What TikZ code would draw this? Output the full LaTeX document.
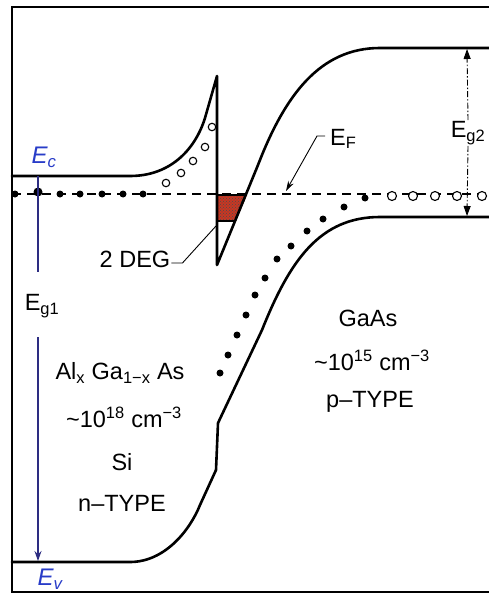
\documentclass[tikz,border=0pt]{standalone}
\usepackage{fontspec}
\setmainfont{Liberation Sans}
\usetikzlibrary{arrows.meta,patterns}
\definecolor{inkblue}{RGB}{40,60,200}
\definecolor{navy}{RGB}{45,45,130}
\definecolor{degred}{RGB}{200,55,35}
\begin{document}
\begin{tikzpicture}[x=1pt,y=-1pt,
  band/.style={line width=2.6pt, line join=round, line cap=round},
  fermi/.style={dash pattern=on 9pt off 6pt, line width=1.4pt},
  edot/.style={circle, fill=black, inner sep=0pt, minimum size=7pt},
  hole/.style={circle, draw=black, fill=white, line width=1.1pt, inner sep=0pt, minimum size=9pt},
  lbl/.style={font=\fontsize{23.5}{27}\selectfont, inner sep=1pt},
  hand/.style={font=\fontsize{24}{27}\selectfont\itshape, text=inkblue, inner sep=1pt},
  leader/.style={line width=0.9pt}
]
\useasboundingbox (0,0) rectangle (489,596);
\fill[white] (0,0) rectangle (489,596);

% frame
\draw[line width=2.4pt] (489,7) -- (12,7) -- (12,592) -- (489,592);

% Fermi level
\draw[fermi] (12,194) -- (489,194);

% 2DEG region
\fill[degred] (217,195) -- (247,195) -- (236,221) -- (217,221) -- cycle;
\fill[pattern=crosshatch dots, pattern color=black!70] (217,195) -- (247,195) -- (236,221) -- (217,221) -- cycle;
\draw[line width=1.8pt] (217,195) -- (247,195) (236,221) -- (217,221);

% conduction band
\draw[band] (12,176) -- (130,176) .. controls (170,176) and (195,150) .. (205,118) -- (217,76) -- (217,265) -- (258,165) .. controls (285,95) and (320,48) .. (380,48) -- (489,48);

% valence band
\draw[band] (12,562) -- (130,562) .. controls (165,562) and (190,530) .. (200,505) -- (216,470) -- (218,423) -- (262,330) .. controls (290,260) and (320,217) .. (380,217) -- (489,217);

% electrons on Fermi level (AlGaAs)
\foreach \x in {15,60,80,102,123,143} \node[edot] at (\x,194) {};
\node[edot, minimum size=9pt] at (38,192) {};
% empty states above
\foreach \p in {(166,183),(181,173),(193,161),(205,147),(212,127)} \node[hole, minimum size=7.5pt] at \p {};

% GaAs side
\node[edot] at (365,198) {};
\foreach \x in {392,413,435,457,482} \node[hole] at (\x,196) {};
\foreach \p in {(344,207),(323,219),(307,231),(291,246),(277,259),(265,278),(255,295),(246,315),(237,335),(228,355),(220,373)} \node[edot] at \p {};

% Eg1
\node[lbl] (eg1) at (42,306) {E\textsubscript{g1}};
\draw[navy, line width=1.1pt] (38,176) -- (38,272);
\draw[navy, line width=1.1pt, -{Stealth[length=10pt,width=7pt]}] (38,337) -- (38,561);

% Eg2
\node[lbl, fill=white] (eg2) at (468,133) {E\textsubscript{g2}};
\draw[line width=0.9pt, dash pattern=on 6pt off 2pt on 1.5pt off 2pt, -{Triangle[length=10pt,width=7pt]}] (eg2.north) -- (467,49);
\draw[line width=0.9pt, dash pattern=on 6pt off 2pt on 1.5pt off 2pt, -{Triangle[length=10pt,width=7pt]}] (eg2.south) -- (467,216);

% EF label
\node[lbl, anchor=west] (ef) at (329,139) {E\textsubscript{F}};
\coordinate (efTip) at (286,191);
\draw[leader, -{Stealth[length=10pt,width=6pt]}] (ef.west) ++(-4,-3) -- ++(-8,0) -- (efTip);

% 2 DEG label
\node[lbl] (deg) at (135,259) {2 DEG};
\coordinate (degTip) at (216,226);
\draw[leader] (deg.east) ++(0,4) -- ++(11,0) -- (degTip);

% Ec, Ev
\node[hand] (ec) at (44,157) {E\textsubscript{c}};
\node[hand] (ev) at (50,579) {E\textsubscript{v}};

% material texts
\node[lbl] (al) at (120,373) {Al\textsubscript{x} Ga\textsubscript{1−x} As};
\node[lbl] (al2) at (124,417) {\textasciitilde10\textsuperscript{18} cm\textsuperscript{−3}};
\node[lbl] (si) at (122,462) {Si};
\node[lbl] (nt) at (122,503) {n–TYPE};
\node[lbl] (ga) at (368,318) {GaAs};
\node[lbl] (ga2) at (372,360) {\textasciitilde10\textsuperscript{15} cm\textsuperscript{−3}};
\node[lbl] (pt) at (370,402) {p–TYPE};
\end{tikzpicture}
\end{document}
